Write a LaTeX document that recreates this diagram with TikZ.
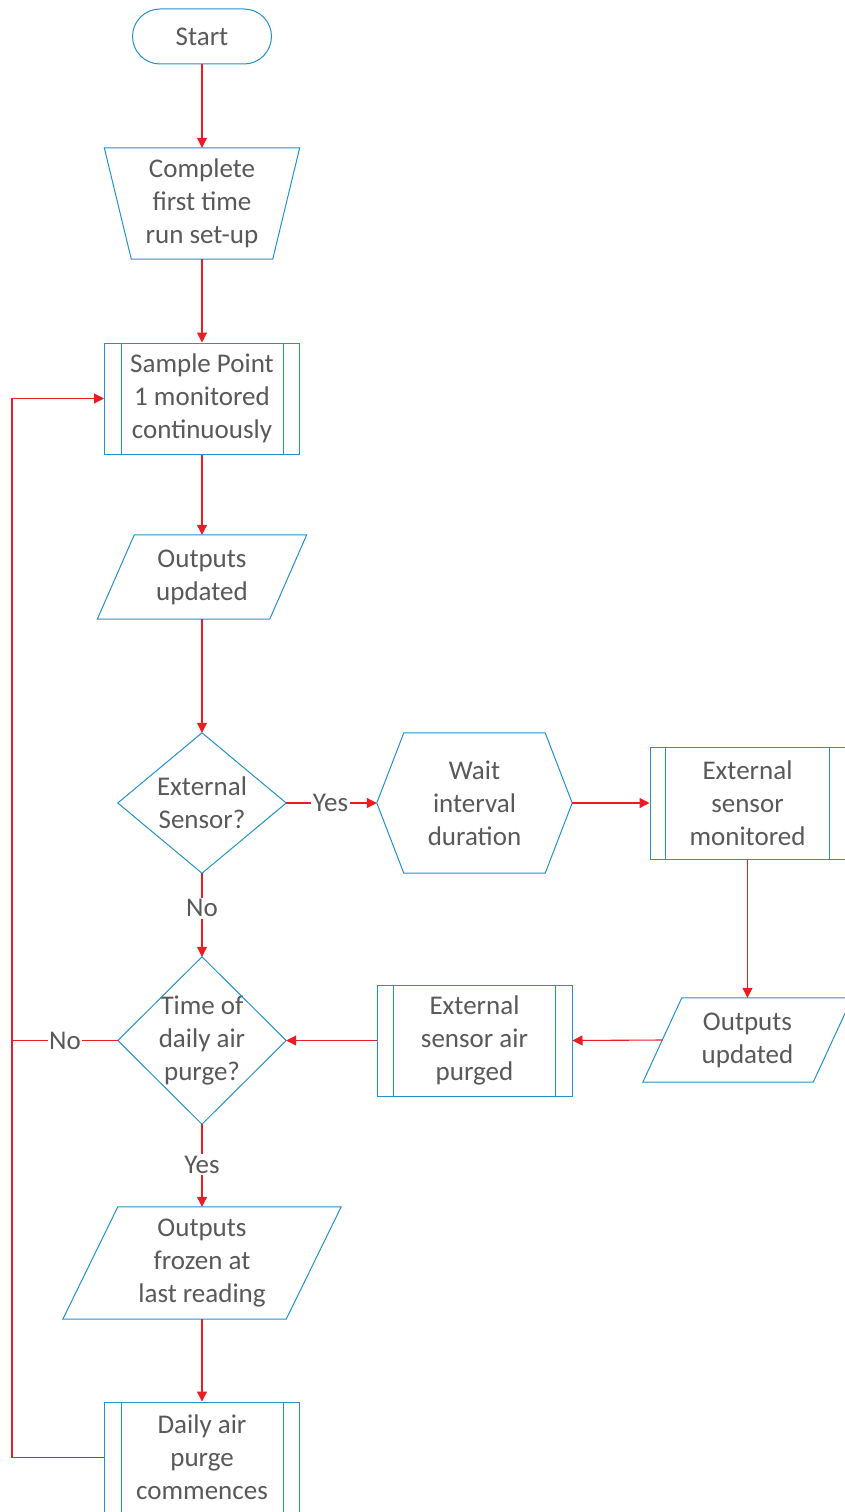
\documentclass[tikz,border=0pt]{standalone}
\usepackage{fontspec}
\setmainfont{Carlito}
\usetikzlibrary{arrows.meta,calc}
\definecolor{shapeblue}{RGB}{35,145,205}
\definecolor{linered}{RGB}{237,28,36}
\definecolor{textgray}{RGB}{89,89,89}
\tikzset{
 txt/.style={text=textgray,font=\fontsize{27}{33}\selectfont,align=center,inner sep=0pt},
 outline/.style={draw=shapeblue,line width=1pt,line join=miter},
 flow/.style={draw=linered,line width=1.1pt,-{Triangle[length=10pt,width=10pt]}},
 plainflow/.style={draw=linered,line width=1.1pt},
 lbl/.style={txt,fill=white,inner sep=1.5pt},
 shapebox/.style 2 args={txt,rectangle,minimum width=#1,minimum height=#2},
 terminal/.style={shapebox={139pt}{55pt},outline,rounded corners=27.5pt},
 predef/.style={shapebox={195pt}{111pt},outline},
}
\begin{document}
\begin{tikzpicture}[x=1pt,y=-1pt]
\fill[white] (0,0) rectangle (845,1512);
\useasboundingbox (0,0) rectangle (845,1512);

% nodes
\node[terminal] (start) at (202,36.5) {Start};

\node[shapebox={195pt}{111pt}] (setup) at (202,203.5) {Complete\\first time\\run set-up};
\draw[outline] (setup.north west) -- (setup.north east) -- ($(setup.south east)+(-27,0)$) -- ($(setup.south west)+(27,0)$) -- cycle;

\node[predef] (sp1) at (202,398.5) {Sample Point\\1 monitored\\continuously};
\draw[outline] ($(sp1.north west)+(17,0)$) -- ($(sp1.south west)+(17,0)$);
\draw[outline] ($(sp1.north east)+(-17,0)$) -- ($(sp1.south east)+(-17,0)$);

\node[shapebox={209pt}{84pt}] (out1) at (202,577) {Outputs\\updated};
\draw[outline] ($(out1.north west)+(37,0)$) -- (out1.north east) -- ($(out1.south east)+(-37,0)$) -- (out1.south west) -- cycle;

\node[shapebox={168pt}{140pt}] (d1) at (202,803) {External\\Sensor?};
\draw[outline] (d1.north) -- (d1.east) -- (d1.south) -- (d1.west) -- cycle;

\node[shapebox={195pt}{140pt}] (wait) at (474.5,803) {Wait\\interval\\duration};
\draw[outline] ($(wait.north west)+(27,0)$) -- ($(wait.north east)+(-27,0)$) -- (wait.east) -- ($(wait.south east)+(-27,0)$) -- ($(wait.south west)+(27,0)$) -- (wait.west) -- cycle;

\node[shapebox={195pt}{112pt},outline] (ext) at (747.5,803) {External\\sensor\\monitored};
\draw[outline] ($(ext.north west)+(16,0)$) -- ($(ext.south west)+(16,0)$);
\draw[outline] ($(ext.north east)+(-16,0)$) -- ($(ext.south east)+(-16,0)$);

\node[shapebox={209pt}{84pt}] (out2) at (747.5,1040) {Outputs\\updated};
\draw[outline] ($(out2.north west)+(39,0)$) -- (out2.north east) -- ($(out2.south east)+(-39,0)$) -- (out2.south west) -- cycle;

\node[predef] (purged) at (474.5,1040.5) {External\\sensor air\\purged};
\draw[outline] ($(purged.north west)+(17,0)$) -- ($(purged.south west)+(17,0)$);
\draw[outline] ($(purged.north east)+(-17,0)$) -- ($(purged.south east)+(-17,0)$);

\node[shapebox={168pt}{167pt}] (d2) at (202,1040.5) {Time of\\daily air\\purge?};
\draw[outline] (d2.north) -- (d2.east) -- (d2.south) -- (d2.west) -- cycle;

\node[shapebox={278pt}{112pt}] (frozen) at (202,1263) {Outputs\\frozen at\\last reading};
\draw[outline] ($(frozen.north west)+(55,0)$) -- (frozen.north east) -- ($(frozen.south east)+(-55,0)$) -- (frozen.south west) -- cycle;

\node[predef] (daily) at (202,1457.5) {Daily air\\purge\\commences};
\draw[outline] ($(daily.north west)+(17,0)$) -- ($(daily.south west)+(17,0)$);
\draw[outline] ($(daily.north east)+(-17,0)$) -- ($(daily.south east)+(-17,0)$);

\coordinate (loopx) at (12,0);

% connectors
\draw[flow] (start.south) -- (setup.north);
\draw[flow] (setup.south) -- (sp1.north);
\draw[flow] (sp1.south) -- (out1.north);
\draw[flow] (out1.south) -- (d1.north);
\draw[flow] (d1.east) -- node[lbl,pos=0.49]{Yes} (wait.west);
\draw[flow] (wait.east) -- (ext.west);
\draw[flow] (ext.south) -- (out2.north);
\draw[flow] ($(out2.west)+(19.5,0)$) -- (purged.east);
\draw[flow] (purged.west) -- (d2.east);
\draw[flow] (d1.south) -- node[lbl,pos=0.42]{No} (d2.north);
\draw[flow] (d2.south) -- node[lbl,pos=0.49]{Yes} (frozen.north);
\draw[flow] (frozen.south) -- (daily.north);
\draw[flow] (daily.west) -- (daily.west -| loopx) -- (sp1.west -| loopx) -- (sp1.west);
\draw[plainflow] (d2.west) -- node[lbl,pos=0.5]{No} (d2.west -| loopx);
\end{tikzpicture}
\end{document}
